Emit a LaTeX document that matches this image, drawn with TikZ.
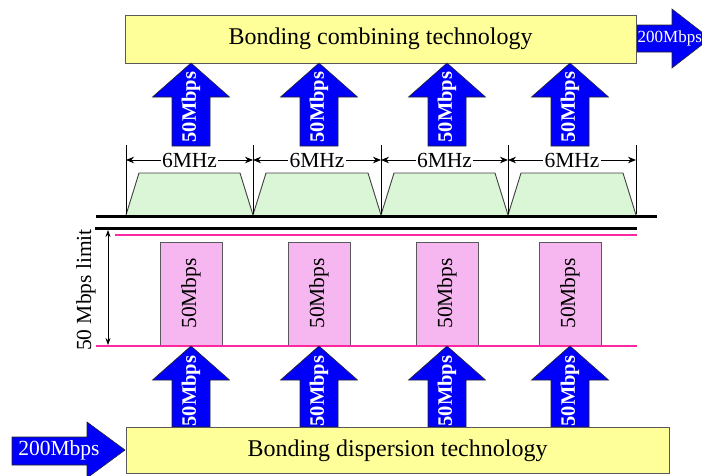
\documentclass[tikz,border=0pt]{standalone}
\usepackage{fontspec}
\setmainfont{Liberation Serif}
\usetikzlibrary{arrows.meta}
\definecolor{arrowblue}{RGB}{0,0,250}
\definecolor{boxyellow}{RGB}{255,255,153}
\definecolor{bandgreen}{RGB}{218,246,214}
\definecolor{ratepink}{RGB}{246,182,240}
\definecolor{linepink}{RGB}{255,40,160}
\tikzset{
  bigarrow/.style={fill=arrowblue, draw=black!85, line width=0.6pt, line join=miter},
  titlebox/.style={fill=boxyellow, draw=black!65, line width=1pt},
  titletext/.style={font=\fontsize{24}{28}\selectfont, inner sep=0pt},
  whitetext/.style={text=white, font=\fontsize{20.5}{24}\selectfont\bfseries, inner sep=0pt},
  plaintext/.style={text=black, font=\fontsize{21.5}{24}\selectfont, inner sep=0pt},
  ratebox/.style={fill=ratepink, draw=black!65, line width=0.8pt},
  band/.style={fill=bandgreen, draw=black!75, line width=0.9pt, line join=miter},
  tick/.style={draw=black, line width=0.9pt},
  dimline/.style={draw=black, line width=0.9pt, {Stealth[length=8pt,width=6.5pt]}-{Stealth[length=8pt,width=6.5pt]}},
  limitline/.style={draw=black, line width=0.7pt, {Stealth[length=7pt,width=5pt]}-{Stealth[length=7pt,width=5pt]}},
  pinkline/.style={draw=linepink, line width=2pt},
  blackline/.style={draw=black, line width=3pt},
}
\begin{document}
\begin{tikzpicture}[x=1pt,y=-1pt]
\useasboundingbox (0,0) rectangle (702,475);
\clip (0,0) rectangle (702,475);
\fill[white] (0,0) rectangle (702,475);

% ---------- top: combining ----------
\draw[bigarrow] (636,25) -- (672,25) -- (672,9) -- (710,38.5) -- (672,68) -- (672,52) -- (636,52) -- cycle;
\node[whitetext, font=\fontsize{17}{20}\selectfont, anchor=west] (outrate) at (637.5,38.5) {200Mbps};
\draw[titlebox] (125,15) rectangle (636,63);
\node[titletext] (combtext) at (380.5,39) {Bonding combining technology};

\foreach \cx [count=\i] in {191,319,447,570} {
  \draw[bigarrow] (\cx-19,146) -- (\cx-19,97) -- (\cx-38.5,97) -- (\cx,63)
     -- (\cx+38.5,97) -- (\cx+19,97) -- (\cx+19,146) -- cycle;
  \node[whitetext, rotate=90] (uptext\i) at (\cx,107) {50Mbps};
}

% ---------- 6 MHz channels ----------
\foreach \x [count=\i] in {126,253,381,508,636} {
  \coordinate (tt\i) at (\x,145);
  \coordinate (tb\i) at (\x,214);
  \coordinate (td\i) at (\x,160);
}
\foreach \a/\b [count=\i] in {126/253,253/381,381/508,508/636} {
  \draw[band] (\a,215) -- (\a+13,173) -- (\b-13,173) -- (\b,215);
}
\foreach \i in {1,...,5} { \draw[tick] (tt\i) -- (tb\i); }
\foreach \i/\j in {1/2,2/3,3/4,4/5} {
  \draw[dimline] (td\i) -- (td\j) node[midway, fill=white, plaintext, inner xsep=1.5pt] (mhz\i) {6MHz};
}

% ---------- lines ----------
\coordinate (bl1) at (96,216);  \coordinate (bl2) at (657,216);
\coordinate (bm1) at (95,228);  \coordinate (bm2) at (637,228);
\coordinate (pt1) at (115,235); \coordinate (pt2) at (637,235);
\coordinate (pb1) at (96,346);  \coordinate (pb2) at (637,346);
\draw[blackline] (bl1) -- (bl2);
\draw[blackline] (bm1) -- (bm2);
\draw[pinkline] (pt1) -- (pt2);

% ---------- 50 Mbps limit ----------
\coordinate (lim1) at (108,230);
\coordinate (lim2) at (108,345);
\draw[limitline] (lim1) -- (lim2);
\node[plaintext, rotate=90] (limtext) at (86,290) {50 Mbps limit};

\foreach \cx [count=\i] in {191,319,447,570} {
  \draw[ratebox] (\cx-31,242) rectangle (\cx+31,345);
  \node[plaintext, rotate=90] (ratetext\i) at (\cx,293.5) {50Mbps};
}
\draw[pinkline] (pb1) -- (pb2);

% ---------- bottom: dispersion ----------
\foreach \cx [count=\i] in {191,319,447,570} {
  \draw[bigarrow] (\cx-19,427) -- (\cx-19,380) -- (\cx-38.5,380) -- (\cx,346)
     -- (\cx+38.5,380) -- (\cx+19,380) -- (\cx+19,427) -- cycle;
  \node[whitetext, rotate=90] (lowtext\i) at (\cx,391) {50Mbps};
}
\draw[titlebox] (126,427) rectangle (669,473);
\node[titletext] (disptext) at (397.5,451) {Bonding dispersion technology};

\draw[bigarrow] (12,437) -- (87,437) -- (87,422) -- (125,450) -- (87,478) -- (87,465) -- (12,465) -- cycle;
\node[whitetext, font=\fontsize{21.5}{24}\selectfont] (inrate) at (59,450.5) {200Mbps};
\end{tikzpicture}
\end{document}
